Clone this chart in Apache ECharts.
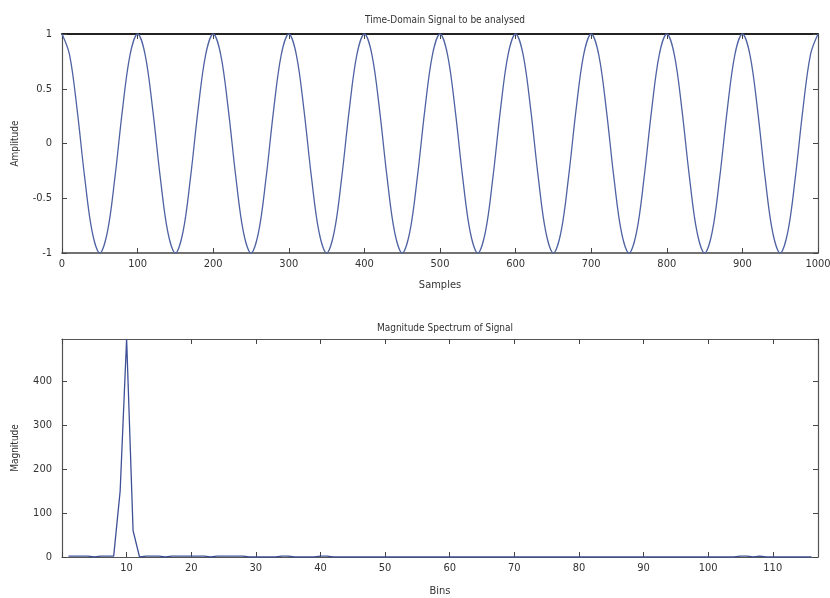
<!DOCTYPE html>
<html>
<head>
<meta charset="utf-8">
<script src="https://cdn.jsdelivr.net/npm/echarts@6/dist/echarts.min.js"></script>
<style>html,body{margin:0;padding:0;background:#fff}#c{width:830px;height:598px}</style>
</head>
<body>
<div id="c"></div>
<script>
// Time-domain signal (read every 10 samples)
const samples = [0,10,20,30,40,50,60,70,80,90,100,110,120,130,140,150,160,170,180,190,200,210,220,230,240,250,260,270,280,290,300,310,320,330,340,350,360,370,380,390,400,410,420,430,440,450,460,470,480,490,500,510,520,530,540,550,560,570,580,590,600,610,620,630,640,650,660,670,680,690,700,710,720,730,740,750,760,770,780,790,800,810,820,830,840,850,860,870,880,890,900,910,920,930,940,950,960,970,980,990,1000];
const amplitude = [
 1,0.81,0.31,-0.31,-0.81,-1,-0.81,-0.31,0.31,0.81,
 1,0.81,0.31,-0.31,-0.81,-1,-0.81,-0.31,0.31,0.81,
 1,0.81,0.31,-0.31,-0.81,-1,-0.81,-0.31,0.31,0.81,
 1,0.81,0.31,-0.31,-0.81,-1,-0.81,-0.31,0.31,0.81,
 1,0.81,0.31,-0.31,-0.81,-1,-0.81,-0.31,0.31,0.81,
 1,0.81,0.31,-0.31,-0.81,-1,-0.81,-0.31,0.31,0.81,
 1,0.81,0.31,-0.31,-0.81,-1,-0.81,-0.31,0.31,0.81,
 1,0.81,0.31,-0.31,-0.81,-1,-0.81,-0.31,0.31,0.81,
 1,0.81,0.31,-0.31,-0.81,-1,-0.81,-0.31,0.31,0.81,
 1,0.81,0.31,-0.31,-0.81,-1,-0.81,-0.31,0.31,0.81,
 1];
// Magnitude spectrum (bins 1..116)
const bins = [];
for (let b = 1; b <= 116; b++) bins.push(b);
const magnitude = [
 2,2,2,2,0,2,2,2,150,495,60,0,2,2,2,0,2,2,2,2,   // 1-20
 2,2,0,2,2,2,2,2,0,0,0,0,0,2,2,0,0,0,0,2,       // 21-40
 2,0,0,0,0,0,0,0,0,0,0,0,0,0,0,0,0,0,0,0,       // 41-60
 0,0,0,0,0,0,0,0,0,0,0,0,0,0,0,0,0,0,0,0,       // 61-80
 0,0,0,0,0,0,0,0,0,0,0,0,0,0,0,0,0,0,0,0,       // 81-100
 0,0,0,0,2,2,0,2,0,0,0,0,0,0,0,0];              // 101-116

const FONT = "'DejaVu Sans Condensed','Liberation Sans Narrow','Liberation Sans',sans-serif";
const axisLine = {show:true, onZero:false, lineStyle:{color:'#555', width:1.2}};
const tickIn = {show:true, inside:true, length:5, lineStyle:{color:'#444'}};
const lbl = {color:'#333', fontSize:11, fontFamily:FONT};
const plain = v => String(v);

const chart = echarts.init(document.getElementById('c'), null, {renderer:'canvas'});
chart.setOption({
  animation:false,
  backgroundColor:'#fff',
  title:[
    {text:'Time-Domain Signal to be analysed', left:440, top:10, textAlign:'center',
     textStyle:{fontSize:10, fontWeight:'normal', color:'#333', fontFamily:FONT}},
    {text:'Magnitude Spectrum of Signal', left:440, top:318, textAlign:'center',
     textStyle:{fontSize:10, fontWeight:'normal', color:'#333', fontFamily:FONT}}
  ],
  grid:[
    {left:62, right:12, top:34, height:219, containLabel:false, outerBoundsMode:'none'},
    {left:62, right:12, top:339, height:218, containLabel:false, outerBoundsMode:'none'}
  ],
  xAxis:[
    {type:'value', gridIndex:0, min:0, max:1000, interval:100, position:'bottom',
     axisLine:{show:true, onZero:false, lineStyle:{color:'#444', width:1.5}}, axisTick:tickIn, splitLine:{show:false},
     axisLabel:{...lbl, margin:6, formatter:plain},
     name:'Samples', nameLocation:'middle', nameGap:27,
     nameTextStyle:{color:'#333', fontSize:11, fontFamily:FONT}},
    {type:'value', gridIndex:0, min:0, max:1000, interval:100, position:'top',
     axisLine:{show:true, onZero:false, lineStyle:{color:'#222', width:2}}, axisTick:tickIn, axisLabel:{show:false}, splitLine:{show:false}},
    {type:'value', gridIndex:1, min:0, max:117, interval:10, position:'bottom',
     axisLine, axisTick:tickIn, splitLine:{show:false},
     axisLabel:{...lbl, margin:6, showMaxLabel:false, formatter:v => v === 0 ? '' : String(v)},
     name:'Bins', nameLocation:'middle', nameGap:29,
     nameTextStyle:{color:'#333', fontSize:11, fontFamily:FONT}},
    {type:'value', gridIndex:1, min:0, max:117, interval:10, position:'top',
     axisLine, axisTick:tickIn, axisLabel:{show:false}, splitLine:{show:false}}
  ],
  yAxis:[
    {type:'value', gridIndex:0, min:-1, max:1, interval:0.5, position:'left',
     axisLine, axisTick:tickIn, splitLine:{show:false},
     axisLabel:{...lbl, margin:10},
     name:'Amplitude', nameLocation:'middle', nameGap:42, nameRotate:90,
     nameTextStyle:{color:'#333', fontSize:10, fontFamily:FONT}},
    {type:'value', gridIndex:0, min:-1, max:1, interval:0.5, position:'right',
     axisLine, axisTick:tickIn, axisLabel:{show:false}, splitLine:{show:false}},
    {type:'value', gridIndex:1, min:0, max:495, interval:100, position:'left',
     axisLine, axisTick:tickIn, splitLine:{show:false},
     axisLabel:{...lbl, margin:10, showMaxLabel:false},
     name:'Magnitude', nameLocation:'middle', nameGap:42, nameRotate:90,
     nameTextStyle:{color:'#333', fontSize:10, fontFamily:FONT}},
    {type:'value', gridIndex:1, min:0, max:495, interval:100, position:'right',
     axisLine, axisTick:tickIn, axisLabel:{show:false}, splitLine:{show:false}}
  ],
  series:[
    {type:'line', xAxisIndex:0, yAxisIndex:0, smooth:0.35, showSymbol:false, clip:true,
     lineStyle:{color:'#4f63a3', width:1.3},
     data: samples.map((s,i) => [s, amplitude[i]])},
    {type:'line', xAxisIndex:2, yAxisIndex:2, showSymbol:false, clip:true,
     lineStyle:{color:'#3d4f96', width:1.3},
     data: bins.map((b,i) => [b, magnitude[i]])}
  ]
});
</script>
</body>
</html>
